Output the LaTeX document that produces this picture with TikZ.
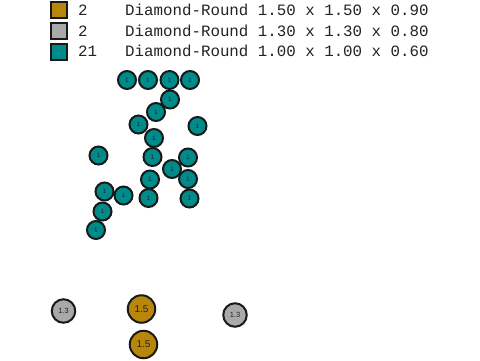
\documentclass[tikz,border=0pt]{standalone}
\usepackage{fontspec}
\setmainfont{Liberation Sans}
\newfontfamily\legendfont{Liberation Mono}
\definecolor{tealc}{RGB}{0,139,139}
\definecolor{goldc}{RGB}{184,134,11}
\definecolor{grayc}{RGB}{169,169,169}
\definecolor{edgec}{RGB}{25,25,25}
\definecolor{textc}{RGB}{35,35,35}
\begin{document}
\begin{tikzpicture}[x=1pt,y=-1pt,
  swatch/.style={draw=edgec,line width=2pt,minimum size=16pt,inner sep=0pt},
  legtext/.style={anchor=base west,inner sep=0pt,font=\legendfont\fontsize{15.8}{16}\selectfont,text=textc},
  ball/.style={circle,draw=edgec,line width=2pt,inner sep=0pt,text=textc},
  ballA/.style={ball,fill=tealc,minimum size=18pt,font=\fontsize{6.5}{6.5}\selectfont},
  ballB/.style={ball,fill=grayc,minimum size=23.5pt,font=\fontsize{7.5}{7.5}\selectfont},
  ballC/.style={ball,fill=goldc,minimum size=27.5pt,font=\fontsize{10}{10}\selectfont}]
\useasboundingbox (0,0) rectangle (480,360);
% legend
\node[swatch,fill=goldc] (s1) at (59,10) {};
\node[swatch,fill=grayc] (s2) at (59,31) {};
\node[swatch,fill=tealc] (s3) at (59,52) {};
\node[legtext] (n1) at (78,15) {2};
\node[legtext] (n2) at (78,36) {2};
\node[legtext] (n3) at (78,56.5) {21};
\node[legtext] (t1) at (125,15) {Diamond-Round 1.50 x 1.50 x 0.90};
\node[legtext] (t2) at (125,36) {Diamond-Round 1.30 x 1.30 x 0.80};
\node[legtext] (t3) at (125,56.5) {Diamond-Round 1.00 x 1.00 x 0.60};
% teal stones
\foreach \px/\py [count=\i] in {127/80,148/80,169.5/80,190/80,170/99.5,156/112,138.5/124.5,197.5/126,154/138,98.5/155.5,152.5/157,188/157.5,172/169,150/179.5,188/179,104.5/191.5,123.5/195.5,148.5/198,189.5/198.5,102.5/211.5,96/230}
  \node[ballA] (a\i) at (\px,\py) {1};
% gray stones
\node[ballB] (b1) at (63.5,311) {1.3};
\node[ballB] (b2) at (235,315) {1.3};
% gold stones
\node[ballC] (c1) at (141.5,309) {1.5};
\node[ballC] (c2) at (143.5,344.5) {1.5};
\end{tikzpicture}
\end{document}
